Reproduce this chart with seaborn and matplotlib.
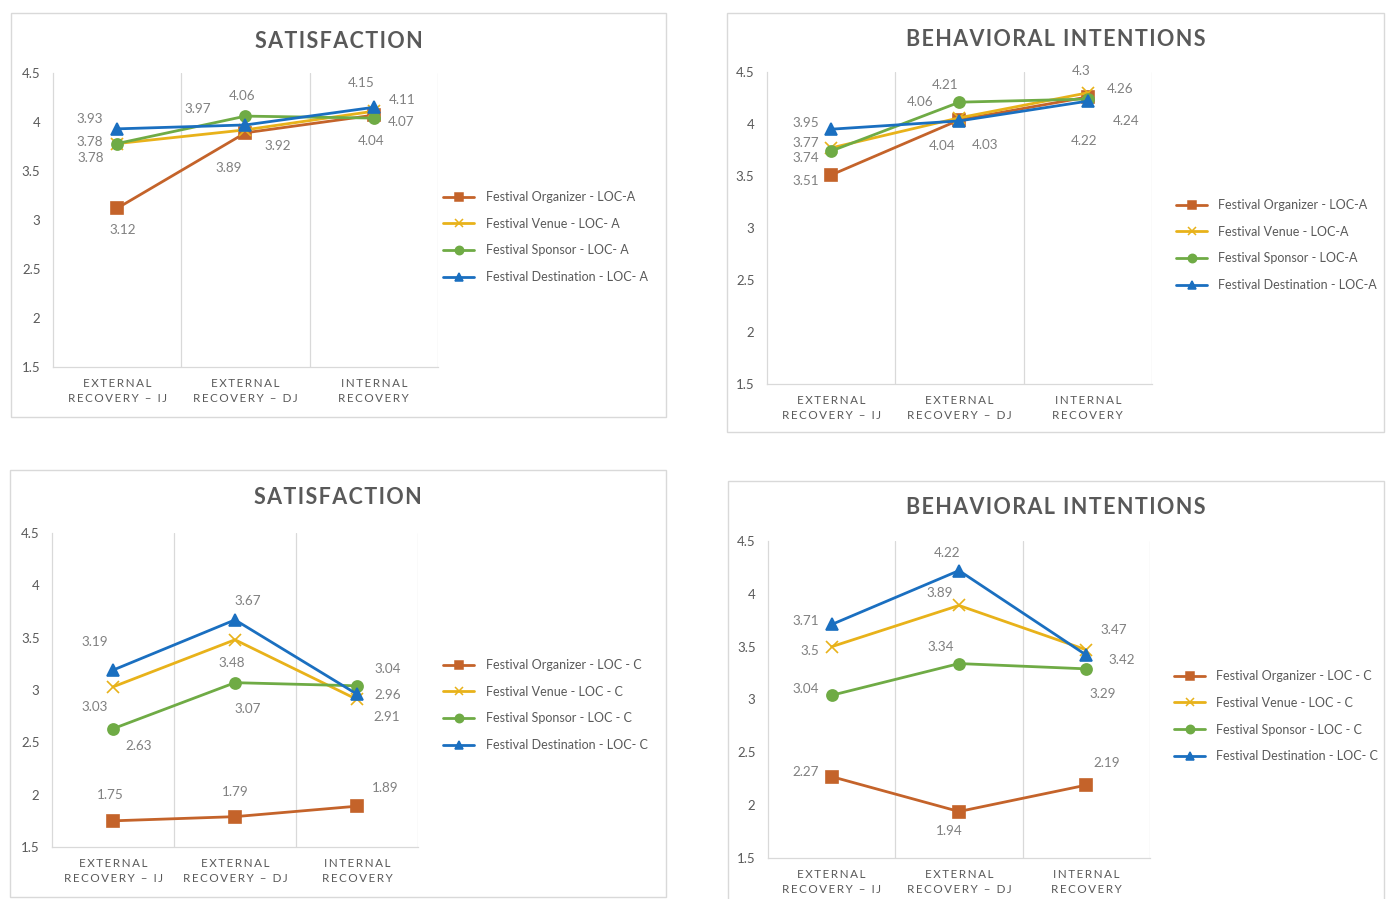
import matplotlib
matplotlib.use("Agg")
import matplotlib.pyplot as plt
from matplotlib.lines import Line2D
from matplotlib.patches import Rectangle
import seaborn as sns
import pandas as pd

# ---- data -------------------------------------------------------------
categories = ["EXTERNAL\nRECOVERY \u2013 IJ", "EXTERNAL\nRECOVERY \u2013 DJ", "INTERNAL\nRECOVERY"]
yticks = [1.5, 2, 2.5, 3, 3.5, 4, 4.5]
series_keys = ["Organizer", "Venue", "Sponsor", "Destination"]

sat_a_organizer = [3.12, 3.89, 4.07]
sat_a_venue = [3.78, 3.92, 4.11]
sat_a_sponsor = [3.78, 4.06, 4.04]
sat_a_destination = [3.93, 3.97, 4.15]

bi_a_organizer = [3.51, 4.04, 4.26]
bi_a_venue = [3.77, 4.06, 4.30]
bi_a_sponsor = [3.74, 4.21, 4.24]
bi_a_destination = [3.95, 4.03, 4.22]

sat_c_organizer = [1.75, 1.79, 1.89]
sat_c_venue = [3.03, 3.48, 2.91]
sat_c_sponsor = [2.63, 3.07, 3.04]
sat_c_destination = [3.19, 3.67, 2.96]

bi_c_organizer = [2.27, 1.94, 2.19]
bi_c_venue = [3.50, 3.89, 3.47]
bi_c_sponsor = [3.04, 3.34, 3.29]
bi_c_destination = [3.71, 4.22, 3.42]

legend_a1 = ["Festival Organizer - LOC-A", "Festival Venue - LOC- A",
             "Festival Sponsor - LOC- A", "Festival Destination - LOC- A"]
legend_a2 = ["Festival Organizer - LOC-A", "Festival Venue - LOC-A",
             "Festival Sponsor - LOC-A", "Festival Destination - LOC-A"]
legend_c = ["Festival Organizer - LOC - C", "Festival Venue - LOC - C",
            "Festival Sponsor - LOC - C", "Festival Destination - LOC- C"]

# ---- style ------------------------------------------------------------
sns.set_theme(style="white")
plt.rcParams["font.family"] = ["Lato", "DejaVu Sans"]

palette = {"Organizer": "#C4632A", "Venue": "#E8B21A",
           "Sponsor": "#6FAB45", "Destination": "#1A6FC0"}
markers = {"Organizer": "s", "Venue": "x", "Sponsor": "o", "Destination": "^"}
msizes = {"Organizer": 8.5, "Venue": 8, "Sponsor": 8, "Destination": 8.5}
GRID = "#D9D9D9"
TICK = "#595959"
LABEL = "#808080"

W, H = 1389, 899
fig = plt.figure(figsize=(W / 100, H / 100), dpi=100)


def spaced(text, sep="\u2009"):
    return "\n".join(sep.join(list(line)) for line in text.split("\n"))


def fig_rect(x0, y0, x1, y1):
    return [x0 / W, (H - y1) / H, (x1 - x0) / W, (y1 - y0) / H]


# label offsets (pixels, x right / y down) for every point of every series
panels = [
    dict(title="SATISFACTION", box=(11, 13, 666, 417), title_y=41,
         plot=(53, 73, 438, 367), legend=legend_a1, leg_xy=(443, 191),
         values=[sat_a_organizer, sat_a_venue, sat_a_sponsor, sat_a_destination],
         offsets=[[(6, 22), (-17, 35), (27, 7)],
                  [(-26, 14), (32, 16), (28, -11)],
                  [(-27, -2), (-3, -20), (-3, 23)],
                  [(-27, -10), (-48, -16), (-13, -24)]]),
    dict(title="BEHAVIORAL INTENTIONS", box=(727, 13, 1384, 432), title_y=39,
         plot=(767, 72, 1152, 384), legend=legend_a2, leg_xy=(1176, 199),
         values=[bi_a_organizer, bi_a_venue, bi_a_sponsor, bi_a_destination],
         offsets=[[(-25, 6), (-17, 26), (32, -8)],
                  [(-25, -5), (-39, -16), (-7, -22)],
                  [(-25, 7), (-14, -17), (38, 22)],
                  [(-25, -6), (26, 24), (-4, 40)]]),
    dict(title="SATISFACTION", box=(10, 470, 666, 897), title_y=498,
         plot=(52, 533, 418, 847), legend=legend_c, leg_xy=(443, 659),
         values=[sat_c_organizer, sat_c_venue, sat_c_sponsor, sat_c_destination],
         offsets=[[(-3, -26), (0, -25), (28, -18)],
                  [(-18, 20), (-3, 23), (30, 18)],
                  [(26, 17), (13, 26), (31, -17)],
                  [(-18, -28), (13, -19), (31, 1)]]),
    dict(title="BEHAVIORAL INTENTIONS", box=(728, 481, 1384, 905), title_y=508,
         plot=(768, 541, 1150, 858), legend=legend_c, leg_xy=(1174, 670),
         values=[bi_c_organizer, bi_c_venue, bi_c_sponsor, bi_c_destination],
         offsets=[[(-26, -5), (-10, 19), (20, -22)],
                  [(-22, 4), (-19, -12), (27, -20)],
                  [(-26, -6), (-18, -17), (16, 25)],
                  [(-26, -3), (-12, -18), (35, 5)]]),
]

for p in panels:
    # outer chart frame
    x0, y0, x1, y1 = p["box"]
    fig.patches.append(Rectangle((x0 / W, (H - y1) / H), (x1 - x0) / W, (y1 - y0) / H,
                                 transform=fig.transFigure, fill=False,
                                 edgecolor=GRID, linewidth=1.0))
    fig.text(((x0 + x1) / 2) / W, 1 - p["title_y"] / H, spaced(p["title"], "\u200a"),
             ha="center", va="center", fontsize=15.5, fontweight="bold", color=TICK)

    ax = fig.add_axes(fig_rect(*p["plot"]))
    rows = []
    for key, vals in zip(series_keys, p["values"]):
        for i, v in enumerate(vals):
            rows.append({"pos": i, "value": v, "series": key})
    df = pd.DataFrame(rows)

    for key in series_keys:
        sub = df[df["series"] == key]
        sns.lineplot(data=sub, x="pos", y="value", color=palette[key],
                     marker=markers[key], markersize=msizes[key], linewidth=2,
                     markeredgecolor=palette[key], markeredgewidth=1.2,
                     ax=ax, legend=False, zorder=3)

    # value labels
    for key, vals, offs in zip(series_keys, p["values"], p["offsets"]):
        for i, (v, (dx, dy)) in enumerate(zip(vals, offs)):
            ax.annotate(f"{v:g}", (i, v), xytext=(dx * 0.72, -dy * 0.72),
                        textcoords="offset points", ha="center", va="center",
                        fontsize=9.7, color=LABEL, zorder=5)

    ax.set_xlim(-0.5, 2.5)
    ax.set_ylim(1.5, 4.5)
    for xv in [0.5, 1.5, 2.5]:
        ax.axvline(xv, color=GRID, linewidth=0.9, zorder=0)
    for s in ["top", "right"]:
        ax.spines[s].set_visible(False)
    for s in ["left", "bottom"]:
        ax.spines[s].set_color(GRID)
        ax.spines[s].set_linewidth(0.9)
    ax.set_yticks(yticks)
    ax.set_yticklabels([f"{t:g}" for t in yticks])
    ax.set_xticks(range(len(categories)))
    ax.set_xticklabels([spaced(c) for c in categories], linespacing=1.45)
    ax.tick_params(axis="y", length=4, color=GRID, labelsize=9.5, labelcolor=TICK, pad=5)
    ax.tick_params(axis="x", length=0, labelsize=8.4, labelcolor=TICK, pad=8)
    ax.set_xlabel("")
    ax.set_ylabel("")
    ax.grid(False)

    handles = [Line2D([0], [0], color=palette[k], marker=markers[k], linewidth=2,
                      markersize=6, markeredgecolor=palette[k], markeredgewidth=1.1)
               for k in series_keys]
    lx, ly = p["leg_xy"]
    fig.legend(handles, p["legend"], loc="upper left",
               bbox_to_anchor=(lx / W, 1 - ly / H), frameon=False,
               fontsize=9, handlelength=2.5, handletextpad=0.9,
               labelspacing=1.18, borderpad=0, borderaxespad=0, labelcolor=TICK)

fig.savefig("out.png", dpi=100, facecolor="white")
